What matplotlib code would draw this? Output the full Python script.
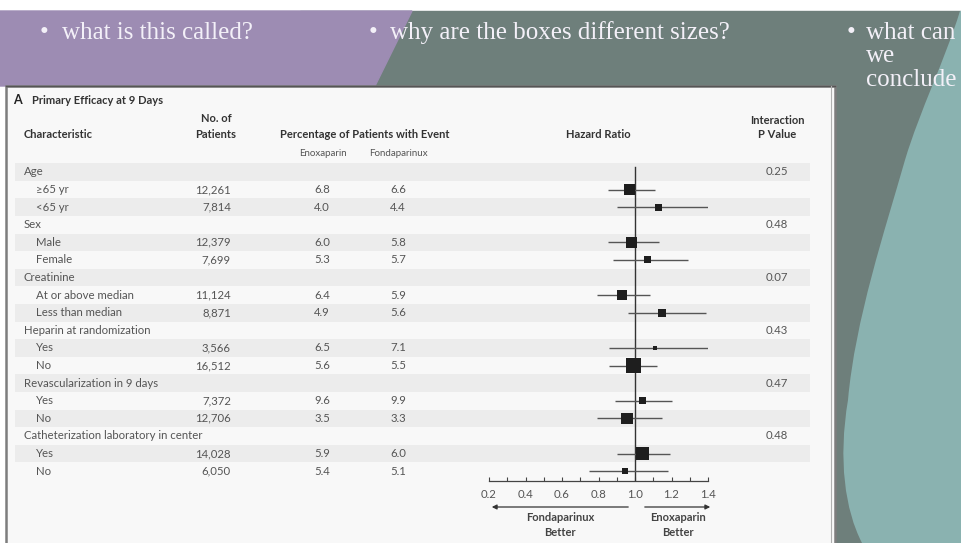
import numpy as np
import matplotlib
matplotlib.use("Agg")
import matplotlib.pyplot as plt
from matplotlib.patches import Rectangle, Polygon, PathPatch
from matplotlib.path import Path

# rows of the forest plot (None = group heading row)
labels = ["Age", "\u226565 yr", "<65 yr",
          "Sex", "Male", "Female",
          "Creatinine", "At or above median", "Less than median",
          "Heparin at randomization", "Yes", "No",
          "Revascularization in 9 days", "Yes", "No",
          "Catheterization laboratory in center", "Yes", "No"]
patients = [None, 12261, 7814, None, 12379, 7699, None, 11124, 8871,
            None, 3566, 16512, None, 7372, 12706, None, 14028, 6050]
enox = [None, 6.8, 4.0, None, 6.0, 5.3, None, 6.4, 4.9,
        None, 6.5, 5.6, None, 9.6, 3.5, None, 5.9, 5.4]
fonda = [None, 6.6, 4.4, None, 5.8, 5.7, None, 5.9, 5.6,
         None, 7.1, 5.5, None, 9.9, 3.3, None, 6.0, 5.1]
hr = [None, 0.97, 1.13, None, 0.98, 1.07, None, 0.93, 1.15,
      None, 1.11, 0.99, None, 1.04, 0.955, None, 1.04, 0.945]
ci_lo = [None, 0.85, 0.90, None, 0.85, 0.88, None, 0.79, 0.96,
         None, 0.86, 0.86, None, 0.89, 0.79, None, 0.90, 0.75]
ci_hi = [None, 1.11, 1.40, None, 1.13, 1.29, None, 1.08, 1.39,
         None, 1.42, 1.12, None, 1.20, 1.15, None, 1.19, 1.18]
pvals = ["0.25", None, None, "0.48", None, None, "0.07", None, None,
         "0.43", None, None, "0.47", None, None, "0.48", None, None]
hr_ticks = [0.2, 0.4, 0.6, 0.8, 1.0, 1.2, 1.4]

W, H = 962, 543
fig = plt.figure(figsize=(W / 100, H / 100), dpi=100)

# slide background, pixel coordinates
bg = fig.add_axes([0, 0, 1, 1])
bg.set_xlim(0, W)
bg.set_ylim(H, 0)
bg.axis("off")

purple = "#9d8cb3"
green = "#6e7f7b"
teal = "#8ab2b0"
bg.add_patch(Rectangle((300, 11), W - 300, H - 11, color=green, zorder=0))
bg.add_patch(Polygon([(0, 11), (412, 11), (375, 86), (0, 86)], color=purple, zorder=1))
verts = [(960, 11), (945, 60), (920, 110), (905, 160),
         (885, 230), (855, 320), (848, 400),
         (838, 460), (845, 510), (862, 543),
         (W, H), (W, 11), (960, 11)]
codes = [Path.MOVETO, Path.CURVE4, Path.CURVE4, Path.CURVE4,
         Path.CURVE4, Path.CURVE4, Path.CURVE4,
         Path.CURVE4, Path.CURVE4, Path.CURVE4,
         Path.LINETO, Path.LINETO, Path.CLOSEPOLY]
bg.add_patch(PathPatch(Path(verts, codes), facecolor=teal, edgecolor="none", zorder=1))

# white panel holding the figure
bg.add_patch(Rectangle((6, 86), 829, H - 86 + 5, facecolor="#f8f8f8",
                       edgecolor="#7d7d7d", lw=1.8, zorder=2))
bg.plot([6, 835], [86, 86], color="#555555", lw=1, zorder=3)
bg.plot([831.5, 831.5], [86, H], color="#b0b0b0", lw=0.8, zorder=3)

serif = ["Liberation Serif", "DejaVu Serif"]
tc = "#f3f0f8"
sfs = 18
bg.text(40, 33, "\u2022", family=serif, fontsize=sfs, color=tc, va="center", zorder=5)
bg.text(62, 33, "what is this called?", family=serif, fontsize=sfs, color=tc, va="center", zorder=5)
bg.text(369, 33, "\u2022", family=serif, fontsize=sfs, color=tc, va="center", zorder=5)
bg.text(390, 33, "why are the boxes different sizes?", family=serif, fontsize=sfs, color=tc, va="center", zorder=5)
bg.text(847, 33, "\u2022", family=serif, fontsize=sfs, color=tc, va="center", zorder=5)
bg.text(866, 33, "what can", family=serif, fontsize=sfs, color=tc, va="center", zorder=5)
bg.text(866, 56, "we", family=serif, fontsize=sfs, color=tc, va="center", zorder=5)
bg.text(866, 80, "conclude", family=serif, fontsize=sfs, color=tc, va="center", zorder=5)

# headers
sans = ["Lato", "DejaVu Sans"]
dark = "#333333"
grey = "#555555"
fs = 8.2
hfs = 8
bg.text(13, 100, "A", family=sans, fontsize=9, weight="bold", color="#222222", va="center", zorder=5)
bg.text(32, 100, "Primary Efficacy at 9 Days", family=sans, fontsize=hfs, weight="bold", color=dark, va="center", zorder=5)
bg.text(24, 135, "Characteristic", family=sans, fontsize=hfs, weight="bold", color=dark, va="center", zorder=5)
bg.text(216, 119, "No. of", family=sans, fontsize=hfs, weight="bold", color=dark, va="center", ha="center", zorder=5)
bg.text(216, 134, "Patients", family=sans, fontsize=hfs, weight="bold", color=dark, va="center", ha="center", zorder=5)
bg.text(365, 135, "Percentage of Patients with Event", family=sans, fontsize=hfs, weight="bold",
        color=dark, va="center", ha="center", zorder=5)
bg.text(323, 153, "Enoxaparin", family=sans, fontsize=7, color=grey, va="center", ha="center", zorder=5)
bg.text(398, 153, "Fondaparinux", family=sans, fontsize=7, color=grey, va="center", ha="center", zorder=5)
bg.text(598, 134, "Hazard Ratio", family=sans, fontsize=hfs, weight="bold", color=dark, va="center", ha="center", zorder=5)
bg.text(777, 120, "Interaction", family=sans, fontsize=hfs, weight="bold", color=dark, va="center", ha="center", zorder=5)
bg.text(777, 134, "P Value", family=sans, fontsize=hfs, weight="bold", color=dark, va="center", ha="center", zorder=5)

# table rows
y_top, y_bot = 163.2, 481.0
nrows = len(labels)
ylim = (17.56, -0.5)
tab = fig.add_axes([0, 1 - y_bot / H, 1, (y_bot - y_top) / H])
tab.set_xlim(0, W)
tab.set_ylim(*ylim)
tab.axis("off")
tab.patch.set_alpha(0)

rows = np.arange(nrows)
for i in rows[::2]:
    tab.axhspan(i - 0.5, i + 0.5, xmin=15 / W, xmax=810 / W, color="#ececec", lw=0, zorder=0)

for i in rows:
    if patients[i] is None:
        tab.text(24, i, labels[i], family=sans, fontsize=fs, color=grey, va="center")
        tab.text(777, i, pvals[i], family=sans, fontsize=fs, color=grey, va="center", ha="center")
    else:
        tab.text(36, i, labels[i], family=sans, fontsize=fs, color=grey, va="center")
        tab.text(231, i, f"{patients[i]:,}", family=sans, fontsize=fs, color=grey, va="center", ha="right")
        tab.text(322, i, f"{enox[i]:.1f}", family=sans, fontsize=fs, color=grey, va="center", ha="center")
        tab.text(398, i, f"{fonda[i]:.1f}", family=sans, fontsize=fs, color=grey, va="center", ha="center")

# forest plot
fx = fig.add_axes([489 / W, 1 - y_bot / H, (708 - 489) / W, (y_bot - y_top) / H])
fx.patch.set_alpha(0)
fx.set_xlim(0.2, 1.4)
fx.set_ylim(*ylim)
for s in ["top", "left", "right"]:
    fx.spines[s].set_visible(False)
fx.spines["bottom"].set_color("#444444")
fx.spines["bottom"].set_linewidth(0.9)
fx.set_yticks([])
fx.set_xticks(hr_ticks)
fx.set_xticklabels([f"{t:.1f}" for t in hr_ticks], family=sans, fontsize=fs, color=grey)
fx.set_xticks(np.arange(0.3, 1.4, 0.2), minor=True)
fx.tick_params(axis="x", which="both", direction="in", length=3, width=0.8, color="#444444", pad=6)

fx.axvline(1.0, ymin=0, ymax=(ylim[0] + 0.3) / (ylim[0] - ylim[1]), color="#333333", lw=1)
idx = [i for i in rows if hr[i] is not None]
fx.hlines(idx, [ci_lo[i] for i in idx], [ci_hi[i] for i in idx], color="#555555", lw=1)
nmax = max(p for p in patients if p is not None)
sizes = [(0.72 * 15 * patients[i] / nmax) ** 2 for i in idx]
fx.scatter([hr[i] for i in idx], idx, s=sizes, marker="s", color="#1e1e1e", zorder=3, linewidths=0)

# direction arrows
bg.annotate("", xy=(489, 507), xytext=(631, 507),
            arrowprops=dict(arrowstyle="-|>", color="#333333", lw=0.9, mutation_scale=7), zorder=5)
bg.annotate("", xy=(713, 507), xytext=(642, 507),
            arrowprops=dict(arrowstyle="-|>", color="#333333", lw=0.9, mutation_scale=7), zorder=5)
bg.text(560, 525, "Fondaparinux\nBetter", family=sans, fontsize=hfs, weight="bold", color="#444444",
        ha="center", va="center", linespacing=1.35, zorder=5)
bg.text(678, 525, "Enoxaparin\nBetter", family=sans, fontsize=hfs, weight="bold", color="#444444",
        ha="center", va="center", linespacing=1.35, zorder=5)

fig.savefig("out.png", dpi=100)
